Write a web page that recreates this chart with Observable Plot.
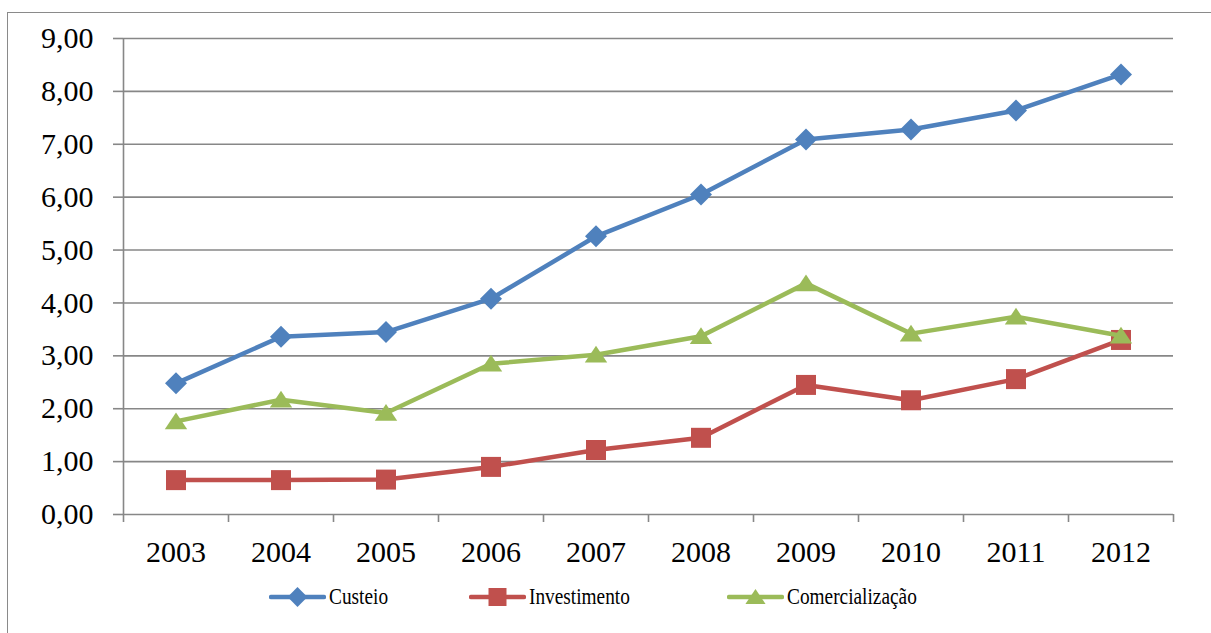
<!DOCTYPE html>
<html>
<head>
<meta charset="utf-8">
<script src="https://cdn.jsdelivr.net/npm/d3@7"></script>
<script src="https://cdn.jsdelivr.net/npm/@observablehq/plot@0.6"></script>
<style>
  html, body { margin: 0; padding: 0; background: #fff; }
  #wrap { position: relative; width: 1211px; height: 633px; overflow: hidden; background: #fff; }
  #frame { position: absolute; left: 7px; top: 12px; width: 1240px; height: 700px;
           border: 1.5px solid #8a8a8a; box-sizing: border-box; }
  #chart { position: absolute; left: 0; top: 0; }
  #chart svg, #chart svg text { font-family: 'Liberation Serif' !important; }
  #legend { position: absolute; top: 584px; left: 0; width: 1211px; height: 26px;
            font-family: 'Liberation Serif'; font-size: 23px; color: #000; }
  .item { position: absolute; top: 0; height: 26px; display: flex; align-items: center; }
  .item svg { display: block; }
  .item span { display: inline-block; transform: scaleX(0.84); transform-origin: left center;
               white-space: nowrap; line-height: 26px; margin-left: 3px;
               font-family: 'Liberation Serif'; }
</style>
</head>
<body>
<div id="wrap">
  <div id="frame"></div>
  <div id="chart"></div>
  <div id="legend"></div>
</div>
<script>
// Annual values per credit line, 2003–2012
const years = [2003, 2004, 2005, 2006, 2007, 2008, 2009, 2010, 2011, 2012];
const custeio = [2.48, 3.36, 3.45, 4.08, 5.26, 6.05, 7.09, 7.28, 7.64, 8.32];
const investimento = [0.65, 0.65, 0.66, 0.90, 1.22, 1.45, 2.45, 2.16, 2.56, 3.30];
const comercializacao = [1.76, 2.17, 1.92, 2.85, 3.02, 3.37, 4.37, 3.42, 3.74, 3.38];
const seriesNames = ["Custeio", "Investimento", "Comercialização"];
const seriesColors = ["#4F81BD", "#C0504D", "#9BBB59"];
const yTicks = [0, 1, 2, 3, 4, 5, 6, 7, 8, 9];

// Marker shapes: diamond, square, flattened triangle
const diamond = { draw(ctx, size) { const r = Math.sqrt(size / Math.PI) * 1.1;
  ctx.moveTo(0, -r); ctx.lineTo(r, 0); ctx.lineTo(0, r); ctx.lineTo(-r, 0); ctx.closePath(); } };
const square = { draw(ctx, size) { const r = Math.sqrt(size / Math.PI);
  ctx.moveTo(-r, -r); ctx.lineTo(r, -r); ctx.lineTo(r, r); ctx.lineTo(-r, r); ctx.closePath(); } };
const triangle = { draw(ctx, size) { const r = Math.sqrt(size / Math.PI) * 1.12;
  ctx.moveTo(0, -0.8 * r); ctx.lineTo(r, 0.7 * r); ctx.lineTo(-r, 0.7 * r); ctx.closePath(); } };
const seriesSymbols = [diamond, square, triangle];
const seriesValues = [custeio, investimento, comercializacao];

const rows = seriesNames.flatMap((name, i) =>
  years.map((year, j) => ({ series: name, year, value: seriesValues[i][j] })));

// Category boundaries for the x-axis tick marks
const boundaries = years.map(y => y - 0.5).concat([years[years.length - 1] + 0.5]);
const gridColor = "#878787";
const fmt = d => d.toFixed(2).replace(".", ",");

const seriesMarks = seriesNames.flatMap((name, i) => {
  const data = rows.filter(d => d.series === name);
  return [
    Plot.line(data, { x: "year", y: "value", stroke: seriesColors[i], strokeWidth: 4.5,
                      strokeLinejoin: "round", strokeLinecap: "round" }),
    Plot.dot(data, { x: "year", y: "value", symbol: () => seriesSymbols[i], r: 10,
                     fill: seriesColors[i], stroke: "none" })
  ];
});

const chart = Plot.plot({
  width: 1211,
  height: 575,
  marginLeft: 123,
  marginRight: 38,
  marginTop: 38,
  marginBottom: 61,
  x: { domain: [boundaries[0], boundaries[boundaries.length - 1]] },
  y: { domain: [0, 9] },
  symbol: { type: "identity" },
  style: { fontFamily: "Liberation Serif", fontSize: "30px",
           color: "#000", background: "transparent", overflow: "visible" },
  marks: [
    Plot.ruleY(yTicks, { stroke: gridColor, strokeWidth: 1.6 }),
    Plot.ruleX([boundaries[0]], { y1: 0, y2: 9, stroke: gridColor, strokeWidth: 1.6 }),
    Plot.axisY({ ticks: yTicks, tickSize: 10, tickPadding: 20, tickFormat: fmt, label: null,
                 stroke: gridColor, strokeWidth: 1.6, fill: "#000" }),
    Plot.axisX({ ticks: boundaries, tickSize: 8, tickFormat: () => "", label: null,
                 stroke: gridColor, strokeWidth: 1.6 }),
    Plot.axisX({ ticks: years, tickSize: 0, tickPadding: 26, tickFormat: d => String(d),
                 label: null, fill: "#000" }),
    ...seriesMarks
  ]
});
document.getElementById("chart").append(chart);

// Legend: line swatch with marker, followed by the series name
const legendLeft = [269, 469, 727];
const legend = d3.select("#legend");
seriesNames.forEach((name, i) => {
  const item = legend.append("div").attr("class", "item").style("left", legendLeft[i] + "px");
  const svg = item.append("svg").attr("width", 57).attr("height", 26);
  svg.append("line").attr("x1", 2).attr("x2", 55).attr("y1", 13).attr("y2", 13)
    .attr("stroke", seriesColors[i]).attr("stroke-width", 4.5).attr("stroke-linecap", "round");
  svg.append("path").attr("transform", "translate(28.5,13)")
    .attr("d", d3.symbol().type(seriesSymbols[i]).size(Math.PI * 81)())
    .attr("fill", seriesColors[i]);
  item.append("span").text(name);
});
</script>
</body>
</html>
